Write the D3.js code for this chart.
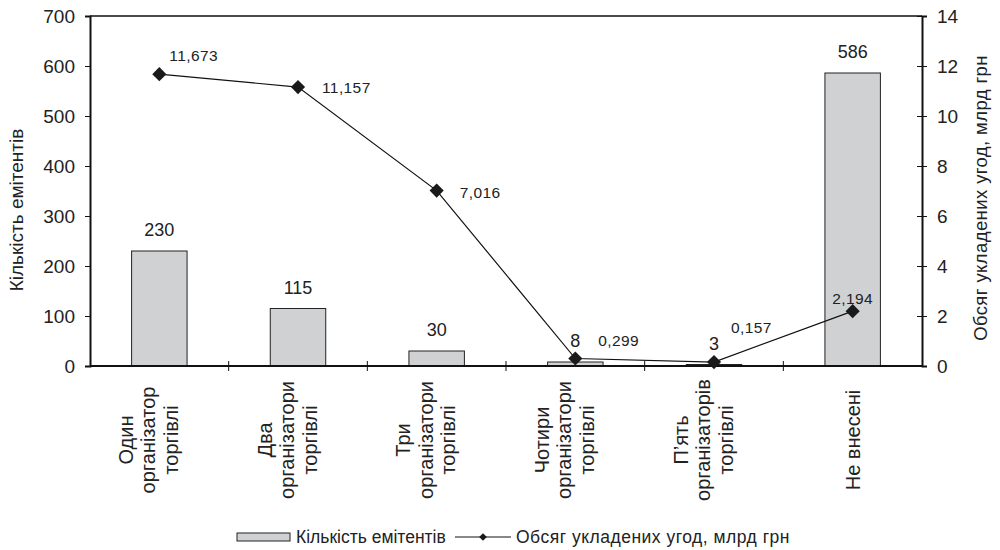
<!DOCTYPE html>
<html>
<head>
<meta charset="utf-8">
<script src="https://cdn.jsdelivr.net/npm/d3@7"></script>
<style>
  body { margin: 0; background: #fff; }
  svg { font-family: "Liberation Sans", Arial, sans-serif; }
</style>
</head>
<body>
<svg id="chart" width="1000" height="550"></svg>
<script>
// категорії (рядки підпису)
const categories = [
    ["Один", "організатор", "торгівлі"],
    ["Два", "організатори", "торгівлі"],
    ["Три", "організатори", "торгівлі"],
    ["Чотири", "організатори", "торгівлі"],
    ["П’ять", "організаторів", "торгівлі"],
    ["Не внесені"]
]
const emitents = [230, 115, 30, 8, 3, 586]
const volume = [11.673, 11.157, 7.016, 0.299, 0.157, 2.194]
const volumeLabels = ["11,673", "11,157", "7,016", "0,299", "0,157", "2,194"]
const leftTicks = [0, 100, 200, 300, 400, 500, 600, 700]
const rightTicks = [0, 2, 4, 6, 8, 10, 12, 14]

// where each line label sits relative to its marker
const lineLabelOffsets = [[10, -13, "start"], [24, 6, "start"], [23, 7, "start"],
    [23, -13, "start"], [17, -29, "start"], [0, -7, "middle"]]

var plotLeft = 90,
    plotRight = 922,
    plotTop = 16,
    plotBottom = 366

var svg = d3.select("#chart")

var x = d3.scaleBand()
    .domain(d3.range(categories.length))
    .range([plotLeft, plotRight])
    .paddingInner(0)
var yL = d3.scaleLinear().domain([0, 700]).range([plotBottom, plotTop])
var yR = d3.scaleLinear().domain([0, 14]).range([plotBottom, plotTop])

var barW = x.bandwidth() * 0.4

// frame top line
svg.append("line")
    .attr("x1", plotLeft).attr("x2", plotRight)
    .attr("y1", plotTop).attr("y2", plotTop)
    .attr("stroke", "#111").attr("stroke-width", 1.3)

// bars
svg.selectAll("rect.bar")
    .data(emitents)
    .enter().append("rect")
    .attr("class", "bar")
    .attr("x", (d, i) => x(i) + x.bandwidth() / 2 - barW / 2)
    .attr("y", d => yL(d))
    .attr("width", barW)
    .attr("height", d => plotBottom - yL(d))
    .attr("fill", "#d0d1d3")
    .attr("stroke", "#222")
    .attr("stroke-width", 1)

svg.selectAll("text.barlabel")
    .data(emitents)
    .enter().append("text")
    .attr("class", "barlabel")
    .attr("x", (d, i) => x(i) + x.bandwidth() / 2)
    .attr("y", d => yL(d) - 15)
    .attr("text-anchor", "middle")
    .attr("font-size", 18)
    .attr("fill", "#222")
    .text(d => d)

// left axis
var axisL = d3.axisLeft(yL).tickValues(leftTicks).tickSize(5).tickPadding(10)
var gL = svg.append("g")
    .attr("transform", "translate(" + plotLeft + ",0)")
    .call(axisL)
gL.selectAll("text").attr("font-size", 19).attr("fill", "#222")
    .style("font-family", "'Liberation Sans', Arial, sans-serif")

// right axis (ticks cross the line)
var axisR = d3.axisRight(yR).tickValues(rightTicks).tickSize(5).tickPadding(10)
var gR = svg.append("g")
    .attr("transform", "translate(" + plotRight + ",0)")
    .call(axisR)
gR.selectAll(".tick line").attr("x1", -5)
gR.selectAll("text").attr("font-size", 19).attr("fill", "#222")
    .style("font-family", "'Liberation Sans', Arial, sans-serif")

// x axis with boundary ticks
svg.append("line")
    .attr("x1", plotLeft).attr("x2", plotRight)
    .attr("y1", plotBottom).attr("y2", plotBottom)
    .attr("stroke", "#111").attr("stroke-width", 2)
svg.selectAll("line.xtick")
    .data(d3.range(1, categories.length))
    .enter().append("line")
    .attr("class", "xtick")
    .attr("x1", i => x(i)).attr("x2", i => x(i))
    .attr("y1", plotBottom - 5).attr("y2", plotBottom + 5)
    .attr("stroke", "#111")

;[gL, gR].forEach(g => {
    g.select(".domain").attr("stroke", "#111").attr("stroke-width", 2)
    g.selectAll(".tick line").attr("stroke", "#111")
})

// category labels, rotated
var lineGap = 22.5
categories.forEach(function (lines, i) {
    var cx = x(i) + x.bandwidth() / 2 - (lines.length > 1 ? 11 : 0)
    var g = svg.append("g")
        .attr("transform", "translate(" + cx + "," + 440 + ") rotate(-90)")
    lines.forEach(function (t, j) {
        g.append("text")
            .attr("x", 0)
            .attr("y", (j - (lines.length - 1) / 2) * lineGap + 7)
            .attr("text-anchor", "middle")
            .attr("font-size", 20)
            .attr("fill", "#222")
            .text(t)
    })
})

// line series
var line = d3.line()
    .x((d, i) => x(i) + x.bandwidth() / 2)
    .y(d => yR(d))
svg.append("path")
    .datum(volume)
    .attr("d", line)
    .attr("fill", "none")
    .attr("stroke", "#111")
    .attr("stroke-width", 1.2)

var diamond = d3.symbol().type(d3.symbolSquare).size(100)
svg.selectAll("path.marker")
    .data(volume)
    .enter().append("path")
    .attr("class", "marker")
    .attr("d", diamond)
    .attr("transform", (d, i) => "translate(" + (x(i) + x.bandwidth() / 2) + "," + yR(d) + ") rotate(45)")
    .attr("fill", "#1a1a1a")

svg.selectAll("text.linelabel")
    .data(volume)
    .enter().append("text")
    .attr("class", "linelabel")
    .attr("x", (d, i) => x(i) + x.bandwidth() / 2 + lineLabelOffsets[i][0])
    .attr("y", (d, i) => yR(d) + lineLabelOffsets[i][1])
    .attr("text-anchor", (d, i) => lineLabelOffsets[i][2])
    .attr("font-size", 15.5)
    .attr("letter-spacing", 0.4)
    .attr("fill", "#222")
    .text((d, i) => volumeLabels[i])

// axis titles
svg.append("text")
    .attr("transform", "translate(23,210) rotate(-90)")
    .attr("text-anchor", "middle")
    .attr("font-size", 19)
    .attr("fill", "#222")
    .text("Кількість емітентів")
svg.append("text")
    .attr("transform", "translate(987,198) rotate(-90)")
    .attr("text-anchor", "middle")
    .attr("font-size", 18.5)
    .attr("letter-spacing", 0.4)
    .attr("fill", "#222")
    .text("Обсяг укладених угод, млрд грн")

// legend
var leg = svg.append("g").attr("transform", "translate(0,537)")
leg.append("rect")
    .attr("x", 237).attr("y", -4)
    .attr("width", 53).attr("height", 8)
    .attr("fill", "#d0d1d3").attr("stroke", "#222")
leg.append("text")
    .attr("x", 296).attr("y", 6)
    .attr("font-size", 17.5).attr("fill", "#222")
    .text("Кількість емітентів")
leg.append("line")
    .attr("x1", 455).attr("x2", 511)
    .attr("y1", 0).attr("y2", 0)
    .attr("stroke", "#111")
leg.append("path")
    .attr("d", d3.symbol().type(d3.symbolSquare).size(30))
    .attr("transform", "translate(483,0) rotate(45)")
    .attr("fill", "#1a1a1a")
leg.append("text")
    .attr("x", 516).attr("y", 6)
    .attr("font-size", 17.5).attr("letter-spacing", 0.5).attr("fill", "#222")
    .text("Обсяг укладених угод, млрд грн")
</script>
</body>
</html>
